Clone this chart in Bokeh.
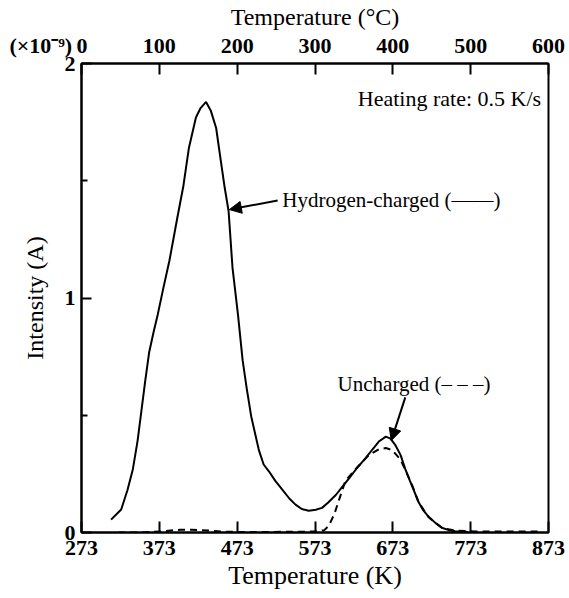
from bokeh.plotting import figure
from bokeh.models import Range1d, LinearAxis, FixedTicker, Label, Arrow, NormalHead
from bokeh.embed import file_html
from bokeh.resources import INLINE

# Hydrogen-charged (solid)
h_T = [311, 324, 332, 339, 345, 350, 355, 360, 366, 371, 378, 386, 396, 404, 411, 420, 426, 433,
       439, 446, 452, 457, 462, 467, 474, 480, 485, 491, 495, 501, 507, 514, 522, 531, 540, 548,
       556, 565, 574, 582, 590, 600, 608, 617, 627, 638, 647, 655, 664, 670, 676, 683, 689, 695,
       700, 706, 712, 719, 728, 736, 745, 753, 770]
h_I = [0.055, 0.098, 0.18, 0.27, 0.39, 0.52, 0.65, 0.77, 0.86, 0.93, 1.04, 1.16, 1.34, 1.48, 1.64,
       1.77, 1.81, 1.836, 1.80, 1.725, 1.585, 1.47, 1.37, 1.13, 0.93, 0.735, 0.62, 0.496, 0.437,
       0.35, 0.29, 0.26, 0.22, 0.183, 0.145, 0.119, 0.10, 0.093, 0.097, 0.105, 0.128, 0.161,
       0.195, 0.232, 0.275, 0.317, 0.355, 0.388, 0.409, 0.40, 0.374, 0.33, 0.27, 0.22, 0.18,
       0.13, 0.095, 0.067, 0.04, 0.02, 0.01, 0.005, 0.002]

# Uncharged (dashed)
u_T = [320, 350, 377, 400, 415, 437, 460, 500, 540, 573, 585, 591, 598, 604, 612, 625, 642, 655,
       664, 672, 683, 690, 698, 706, 719, 736, 753, 780, 820, 860]
u_I = [0.0, 0.0, 0.005, 0.012, 0.012, 0.008, 0.003, 0.002, 0.003, 0.004, 0.01, 0.03, 0.08, 0.14,
       0.22, 0.27, 0.33, 0.355, 0.36, 0.352, 0.31, 0.26, 0.20, 0.13, 0.065, 0.02, 0.008, 0.004,
       0.004, 0.004]

K_TICKS = [273, 373, 473, 573, 673, 773, 873]
C_TICKS = [0, 100, 200, 300, 400, 500, 600]
Y_TICKS = [0, 1, 2]
Y_MINOR = [0.5, 1.5]
MULTIPLIER = "(\u00d710\u207b\u2079)"

SERIF = "'Liberation Serif'"

p = figure(width=569, height=598, x_range=Range1d(273, 873), y_range=Range1d(0, 2),
           output_backend="svg", toolbar_location=None,
           min_border_left=81, min_border_right=21, min_border_top=63, min_border_bottom=66)
p.extra_x_ranges = {"C": Range1d(0, 600)}
p.xgrid.grid_line_color = None
p.ygrid.grid_line_color = None
p.outline_line_color = "black"
p.outline_line_width = 2
p.background_fill_color = "white"
p.border_fill_color = "white"

def style_axis(ax, ticks, minor=None, label="", label_size="24px"):
    ax.ticker = FixedTicker(ticks=ticks, minor_ticks=minor or [])
    ax.axis_line_color = "black"
    ax.axis_line_width = 2
    ax.major_tick_in = 11
    ax.major_tick_out = 0
    ax.major_tick_line_width = 2
    ax.minor_tick_in = 6
    ax.minor_tick_out = 0
    ax.minor_tick_line_width = 2
    ax.major_label_text_font = SERIF
    ax.major_label_text_font_style = "bold"
    ax.major_label_text_font_size = "22px"
    ax.major_label_text_color = "black"
    ax.axis_label = label
    ax.axis_label_text_font = SERIF
    ax.axis_label_text_font_style = "normal"
    ax.axis_label_text_font_size = label_size
    ax.axis_label_text_color = "black"

xb = p.xaxis[0]
style_axis(xb, K_TICKS, label="Temperature (K)", label_size="26px")
xb.major_label_standoff = 8
xb.axis_label_standoff = 3

yl = p.yaxis[0]
style_axis(yl, Y_TICKS, Y_MINOR, label="Intensity (A)")
yl.major_tick_in = 10
yl.major_label_standoff = 6
yl.axis_label_standoff = 14
yl.major_label_orientation = "horizontal"

xt = LinearAxis(x_range_name="C")
style_axis(xt, C_TICKS, label="Temperature (\u00b0C)", label_size="24px")
xt.major_label_standoff = 6
xt.axis_label_standoff = 0
# the multiplier sits to the left of the first top tick label; padded so "0" stays centred on its tick
xt.major_label_overrides = {0: MULTIPLIER + "\u20090\u2003\u2003\u2003"}
p.add_layout(xt, "above")

p.line(h_T, h_I, line_color="black", line_width=2)
p.line(u_T, u_I, line_color="black", line_width=2, line_dash="7 5")

def lab(x, y, t, size="21px", align="left", style="normal"):
    p.add_layout(Label(x=x, y=y, text=t, text_font=SERIF, text_font_size=size,
                       text_align=align, text_baseline="middle", text_color="black",
                       text_font_style=style))

lab(628, 1.85, "Heating rate: 0.5 K/s", size="22px")
lab(531, 1.416, "Hydrogen-charged (\u2014\u2014)")
lab(602, 0.635, "Uncharged (\u2013 \u2013 \u2013)")

p.add_layout(Arrow(end=NormalHead(size=12, fill_color="black", line_color="black"),
                   x_start=525, y_start=1.416, x_end=463, y_end=1.377,
                   line_color="black", line_width=2))
p.add_layout(Arrow(end=NormalHead(size=12, fill_color="black", line_color="black"),
                   x_start=689, y_start=0.576, x_end=671, y_end=0.392,
                   line_color="black", line_width=2))

open("out.html", "w").write(file_html(p, INLINE))
